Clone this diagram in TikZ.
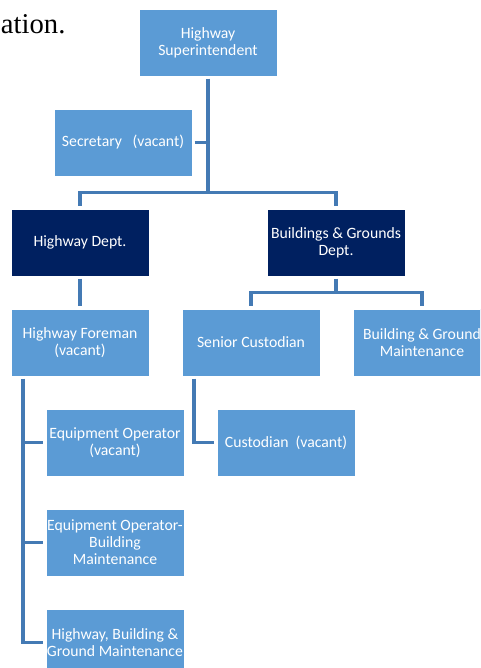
\documentclass[tikz,border=0pt]{standalone}
\usepackage{fontspec}
\setmainfont{Carlito}
\newfontfamily\pageserif{Liberation Serif}
\usepackage{xcolor}
\usepackage{tikz}
\usetikzlibrary{positioning, calc}
\definecolor{myblue}{RGB}{91,155,213}
\definecolor{mynavy}{RGB}{0,32,96}
\definecolor{mylink}{RGB}{68,122,180}
\tikzstyle{unit} = [rectangle, minimum width=103.5pt, minimum height=50.25pt, inner sep=0pt, outer sep=2pt, align=center, draw=white, line width=0.6pt, fill=myblue, text=white, font=\fontsize{11.8}{12.75}\selectfont]
\tikzstyle{dept} = [unit, fill=mynavy]
\tikzstyle{link} = [draw=mylink, line width=2.3pt]

\begin{document}
\begin{tikzpicture}[node distance=20.75pt]
    \useasboundingbox (0,0) rectangle (360pt,-501pt);
    \clip (0,0) rectangle (360pt,-501pt);
    % leftover of the page text
    \node (frag) [anchor=base west, inner sep=0pt, font=\pageserif\fontsize{21.5}{24}\selectfont] at (0.5pt,-24.75pt) {ation.};
    \node (sup) [unit] at (156pt,-31.875pt) {Highway\\Superintendent};
    \node (sec) [unit, below=of sup, xshift=-63.75pt] {Secretary~~~(vacant)};
    \node (hwd) [dept, below=of sec, xshift=-32.25pt] {Highway Dept.};
    \node (bgd) [dept, right=84.5pt of hwd] {Buildings \& Grounds\\Dept.};
    \node (fore) [unit, below=of hwd] {Highway Foreman\\(vacant)};
    \node (scust) [unit, right=of fore] {Senior Custodian};
    \node (bgm) [unit, right=of scust] {Building \& Ground\\Maintenance};
    \node (eqop) [unit, below=of fore, xshift=26.25pt] {Equipment Operator\\(vacant)};
    \node (cust) [unit, below=of scust, xshift=26.25pt] {Custodian~~(vacant)};
    \node (eqbm) [unit, below=of eqop] {Equipment Operator-\\Building\\Maintenance};
    \node (hbgm) [unit, below=of eqbm] {Highway, Building \&\\Ground Maintenance};

    % top level
    \coordinate (split) at ($(sup.south |- hwd.north)+(0,10.375pt)$);
    \draw [link] (sup.south) -- (split);
    \draw [link] (sec.east) -- (sec.east -| sup.south);
    \draw [link] (split) -| (hwd.north);
    \draw [link] (split) -| (bgd.north);
    % highway side
    \draw [link] (hwd.south) -- (fore.north);
    \coordinate (trunk) at ($(eqop.west)+(-15.25pt,0)$);
    \draw [link] (trunk |- fore.south) |- (hbgm.west);
    \draw [link] (trunk) -- (eqop.west);
    \draw [link] (trunk |- eqbm.west) -- (eqbm.west);
    % buildings side
    \coordinate (bgsplit) at ($(bgd.south)!0.5!(bgd.south |- scust.north)$);
    \draw [link] (bgd.south) -- (bgsplit);
    \draw [link] (bgsplit) -| (scust.north);
    \draw [link] (bgsplit) -| (bgm.north);
    \coordinate (cturn) at ($(cust.west)+(-15.25pt,0)$);
    \draw [link] (cturn |- scust.south) |- (cust.west);
\end{tikzpicture}
\end{document}
